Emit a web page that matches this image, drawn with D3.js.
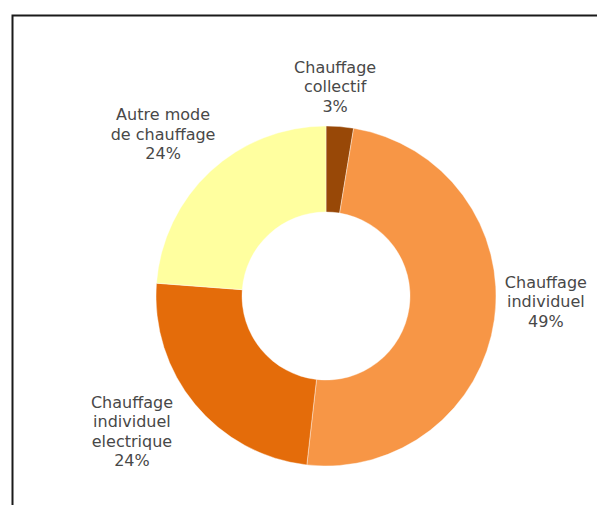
<!DOCTYPE html>
<html>
<head>
<meta charset="utf-8">
<script src="https://cdn.jsdelivr.net/npm/d3@7"></script>
<style>
  html, body { margin: 0; padding: 0; background: #fff; }
  svg { display: block; }
</style>
</head>
<body>
<div id="chart"></div>
<script>
// Donut chart: modes de chauffage
const categories = ["Chauffage collectif", "Chauffage individuel", "Chauffage individuel electrique", "Autre mode de chauffage"];
const values = [2.6, 49.2, 24.4, 23.8];
const labelLines = [
    ["Chauffage", "collectif", "3%"],
    ["Chauffage", "individuel", "49%"],
    ["Chauffage", "individuel", "electrique", "24%"],
    ["Autre mode", "de chauffage", "24%"]
];
const colors = ["#984807", "#F79646", "#E46C0A", "#FFFF9F"];

const width = 597;
const height = 505;
const cx = 326, cy = 296;
const outerR = 170, innerR = 84;
const labelR = 222;
// small nudges so labels sit where Excel put them
const nudge = [[-9, 12], [0, -25], [-23, -6], [-12, 1]];
const lineH = 19.5;

const svg = d3.select("#chart").append("svg")
    .attr("width", width)
    .attr("height", height);

// frame (runs off the right / bottom edges)
svg.append("rect")
    .attr("x", 12.5)
    .attr("y", 15.5)
    .attr("width", 620)
    .attr("height", 520)
    .attr("fill", "none")
    .attr("stroke", "#1a1a1a")
    .attr("stroke-width", 2);

const data = categories.map((c, i) => ({name: c, value: values[i], lines: labelLines[i], color: colors[i]}));

const pie = d3.pie()
    .sort(null)
    .value(d => d.value);

const arc = d3.arc()
    .innerRadius(innerR)
    .outerRadius(outerR);

const labelArc = d3.arc()
    .innerRadius(labelR)
    .outerRadius(labelR);

const arcs = pie(data);

const g = svg.append("g")
    .attr("transform", `translate(${cx},${cy})`);

g.selectAll("path")
    .data(arcs)
    .join("path")
    .attr("d", arc)
    .attr("fill", d => d.data.color)
    .attr("stroke", "#fff")
    .attr("stroke-width", 0.4);

const labels = g.selectAll("text")
    .data(arcs)
    .join("text")
    .attr("transform", (d, i) => {
        const [x, y] = labelArc.centroid(d);
        return `translate(${x + nudge[i][0]},${y + nudge[i][1]})`;
    })
    .attr("text-anchor", "middle")
    .attr("font-family", "'Century Gothic', 'DejaVu Sans', sans-serif")
    .attr("font-size", "16px")
    .attr("fill", "#484848");

labels.selectAll("tspan")
    .data(d => d.data.lines)
    .join("tspan")
    .attr("x", 0)
    .attr("y", (d, i, nodes) => (i - (nodes.length - 1) / 2) * lineH)
    .attr("dominant-baseline", "central")
    .text(d => d);
</script>
</body>
</html>
